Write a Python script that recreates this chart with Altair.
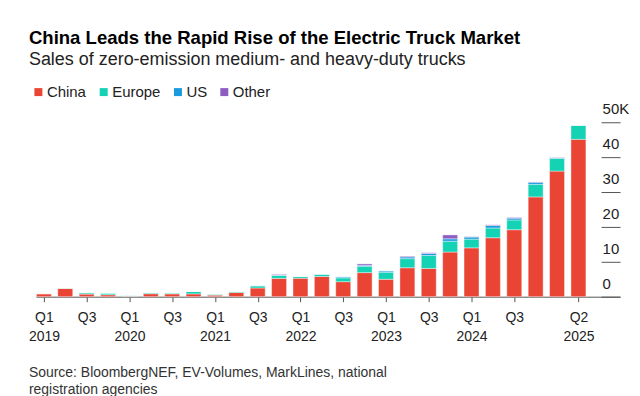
import altair as alt
import pandas as pd

# ---- data (thousands of trucks) ----
quarters = ["Q1 2019", "Q2 2019", "Q3 2019", "Q4 2019",
            "Q1 2020", "Q2 2020", "Q3 2020", "Q4 2020",
            "Q1 2021", "Q2 2021", "Q3 2021", "Q4 2021",
            "Q1 2022", "Q2 2022", "Q3 2022", "Q4 2022",
            "Q1 2023", "Q2 2023", "Q3 2023", "Q4 2023",
            "Q1 2024", "Q2 2024", "Q3 2024", "Q4 2024",
            "Q1 2025", "Q2 2025"]
china = [0.8, 2.4, 0.75, 0.55, 0.15, 0.85, 0.8, 0.8, 0.45, 1.2, 2.5, 5.25,
         5.3, 5.8, 4.3, 6.9, 5.0, 8.3, 8.1, 12.8, 14.0, 16.9, 19.2, 28.6, 36.0, 45.1]
europe = [0.15, 0.1, 0.4, 0.5, 0.25, 0.3, 0.3, 0.7, 0.3, 0.3, 0.65, 0.85,
          0.5, 0.6, 1.1, 1.8, 2.0, 2.6, 3.7, 3.1, 2.5, 2.8, 2.8, 3.6, 3.6, 4.0]
us = [0, 0, 0, 0, 0, 0, 0, 0, 0, 0, 0, 0.1,
      0, 0.1, 0.3, 0.3, 0.4, 0.5, 0.6, 0.7, 0.6, 0.7, 0.5, 0.6, 0.2, 0.05]
other = [0, 0, 0, 0, 0, 0, 0, 0, 0, 0, 0, 0.2,
         0, 0, 0, 0.4, 0.0, 0.2, 0.2, 1.1, 0.1, 0.2, 0.2, 0.1, 0.1, 0]

regions = ["China", "Europe", "US", "Other"]
colors = ["#ea4435", "#14d2b4", "#1a9be0", "#8c5ec1"]

tick_index = [0, 2, 4, 6, 8, 10, 12, 14, 16, 18, 20, 22, 25]
tick_labels = [["Q1", "2019"], ["Q3"], ["Q1", "2020"], ["Q3"], ["Q1", "2021"], ["Q3"],
               ["Q1", "2022"], ["Q3"], ["Q1", "2023"], ["Q3"], ["Q1", "2024"], ["Q3"],
               ["Q2", "2025"]]
y_ticks = [0, 10, 20, 30, 40, 50]

title_text = "China Leads the Rapid Rise of the Electric Truck Market"
subtitle_text = "Sales of zero-emission medium- and heavy-duty trucks"
source_text = "Source: BloombergNEF, EV-Volumes, MarkLines, national\nregistration agencies"

# ---- build long table ----
rows = []
series = {"China": china, "Europe": europe, "US": us, "Other": other}
for k, reg in enumerate(regions):
    for i, q in enumerate(quarters):
        rows.append({"idx": i, "quarter": q, "region": reg, "order": k, "value": series[reg][i]})
df = pd.DataFrame(rows)

arr = ["[]"] * len(quarters)
for v, l in zip(tick_index, tick_labels):
    arr[v] = "[" + ",".join("'%s'" % s for s in l) + "]"
x_label_expr = "[" + ",".join(arr) + "][datum.value]"

FONT = "Liberation Sans"

bars = alt.Chart(df).mark_bar(size=15, stroke="white", strokeWidth=0.4).encode(
    x=alt.X("idx:Q",
            scale=alt.Scale(domain=[-0.373, 26.946], nice=False, zero=False, padding=0),
            axis=alt.Axis(values=tick_index, labelExpr=x_label_expr, title=None,
                          grid=False, domainColor="#555", tickColor="#555",
                          tickSize=5, labelPadding=9, labelFontSize=14,
                          labelColor="#222", labelLineHeight=18.5,
                          labelBaseline="top", labelFlush=False, labelFont=FONT)),
    y=alt.Y("value:Q", stack="zero",
            scale=alt.Scale(domain=[0, 50], nice=False),
            axis=alt.Axis(orient="right", values=y_ticks, offset=-19, tickSize=19,
                          domain=False, grid=False, labelAlign="left",
                          labelPadding=-18, labelBaseline="alphabetic",
                          labelOffset=-8.5, labelFontSize=15, labelColor="#222",
                          tickColor="#555", labelFlush=False, labelFont=FONT,
                          labelExpr="datum.value == 50 ? '50K' : datum.value",
                          title=None)),
    color=alt.Color("region:N",
                    scale=alt.Scale(domain=regions, range=colors),
                    legend=alt.Legend(title=None, orient="none", legendX=-5, legendY=-38,
                                      direction="horizontal", columns=4, padding=0,
                                      symbolType="square", symbolSize=64,
                                      symbolStrokeWidth=0, labelFontSize=15,
                                      labelOffset=1, columnPadding=9.5,
                                      labelColor="#222", labelFont=FONT)),
    order=alt.Order("order:Q", sort="ascending"),
)

src = alt.Chart(pd.DataFrame({"t": [source_text]})).mark_text(
    align="left", baseline="alphabetic", fontSize=14, lineHeight=16.5,
    color="#333", lineBreak="\n", font=FONT
).encode(text="t:N", x=alt.value(-7), y=alt.value(256))

chart = alt.layer(bars, src).properties(
    width=586, height=175,
    autosize="none",
    background="white",
    padding={"left": 28, "top": 114, "right": 12, "bottom": 99},
    title=alt.TitleParams(text=title_text, subtitle=subtitle_text, anchor="start",
                          frame="group", font=FONT, fontSize=18.6, fontWeight="bold",
                          color="#000", subtitleFont=FONT, subtitleFontSize=18,
                          subtitleColor="#222", subtitlePadding=4, offset=15, dx=-7),
).configure_view(strokeWidth=0, stroke=None)

chart.save("out.html", embed_options={"renderer": "svg", "actions": False})
